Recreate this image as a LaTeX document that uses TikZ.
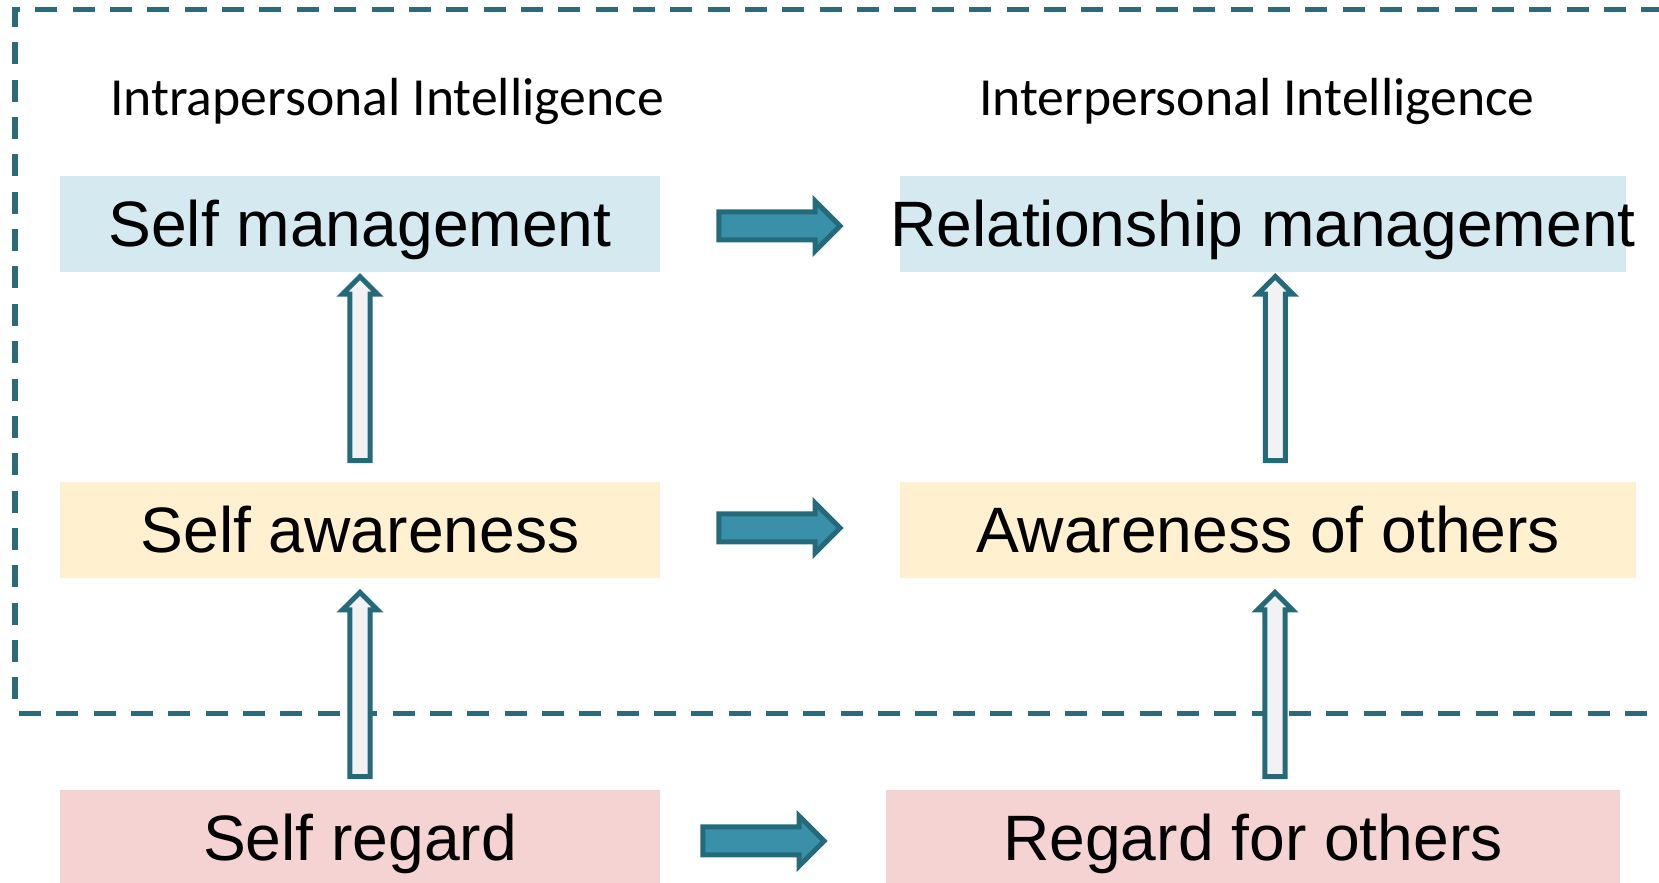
\documentclass[tikz,border=0pt]{standalone}
\usepackage{fontspec}
\setmainfont{Liberation Sans}
\newfontfamily\titlefont{Carlito}
\usetikzlibrary{calc,shapes.arrows}
\definecolor{framecol}{HTML}{2C6A7A}
\definecolor{arrowline}{HTML}{256A7A}
\definecolor{arrowfill}{HTML}{3A90A8}
\definecolor{hollow}{HTML}{F2F2F2}
\definecolor{boxblue}{HTML}{D4EAF0}
\definecolor{boxyellow}{HTML}{FFF1CF}
\definecolor{boxpink}{HTML}{F4D3D2}
\begin{document}
\begin{tikzpicture}[x=0.01cm, y=-0.01cm,
	frame/.style={framecol, line width=0.05cm, dash pattern=on 0.22cm off 0.1533cm},
	box/.style={inner xsep=0pt, minimum height=0.96cm, text height=13.07pt, text depth=0pt, font=\fontsize{18.25}{22}\selectfont},
	title/.style={anchor=base, font=\titlefont\fontsize{15.25}{18}\selectfont},
	harrow/.style={single arrow, draw=arrowline, fill=arrowfill, line width=0.05cm, inner sep=0.115cm, single arrow head extend=0.11cm, minimum height=1.21cm},
	varrow/.style={single arrow, draw=arrowline, fill=hollow, line width=0.05cm, inner sep=0.075cm, single arrow head extend=0.075cm, minimum height=1.84cm, rotate=90}]
	\useasboundingbox (0,0) rectangle (1659,883);
	\draw[frame] (1663.5,10) -| (15,714);
	\draw[frame, dash phase=0.3333cm] (15,714) -- (1700,714);
	\node[title] (intra) at (387,116) {Intrapersonal Intelligence};
	\node[title] (inter) at (1257,116) {Interpersonal Intelligence};
	\node[box, fill=boxblue, minimum width=6cm] (selfman) at (360,224) {Self management};
	\node[box, fill=boxblue, minimum width=7.26cm] (relman) at (1263,224) {\makebox[0pt]{Relationship management}};
	\node[box, fill=boxyellow, minimum width=6cm] (selfaw) at (360,530) {Self awareness};
	\node[box, fill=boxyellow, minimum width=7.36cm] (othaw) at (1268,530) {Awareness of others};
	\node[box, fill=boxpink, minimum width=6cm] (selfreg) at (360,838) {Self regard};
	\node[box, fill=boxpink, minimum width=7.34cm] (othreg) at (1253,838) {Regard for others};
	\node[harrow] (ar1) at ($(selfman.east)!0.5!(relman.west)+(-7.5,2)$) {};
	\node[harrow] (ar2) at ($(selfaw.east)!0.5!(othaw.west)+(-7.5,-2)$) {};
	\node[harrow] (ar3) at ($(selfreg.east)!0.46!(othreg.west)+(-7.5,3)$) {};
	\node[varrow] (up1) at ($(selfaw.north)!0.54!(selfman.south)+(0,5)$) {};
	\node[varrow] (up2) at ($(selfreg.north)!0.5!(selfaw.south)+(0,5.5)$) {};
	\node[varrow] (up3) at ($(othaw.north)!0.54!(relman.south)+(10,5)$) {};
	\node[varrow] (up4) at ($(othreg.north)!0.5!(othaw.south)+(14.5,5.5)$) {};
\end{tikzpicture}
\end{document}
